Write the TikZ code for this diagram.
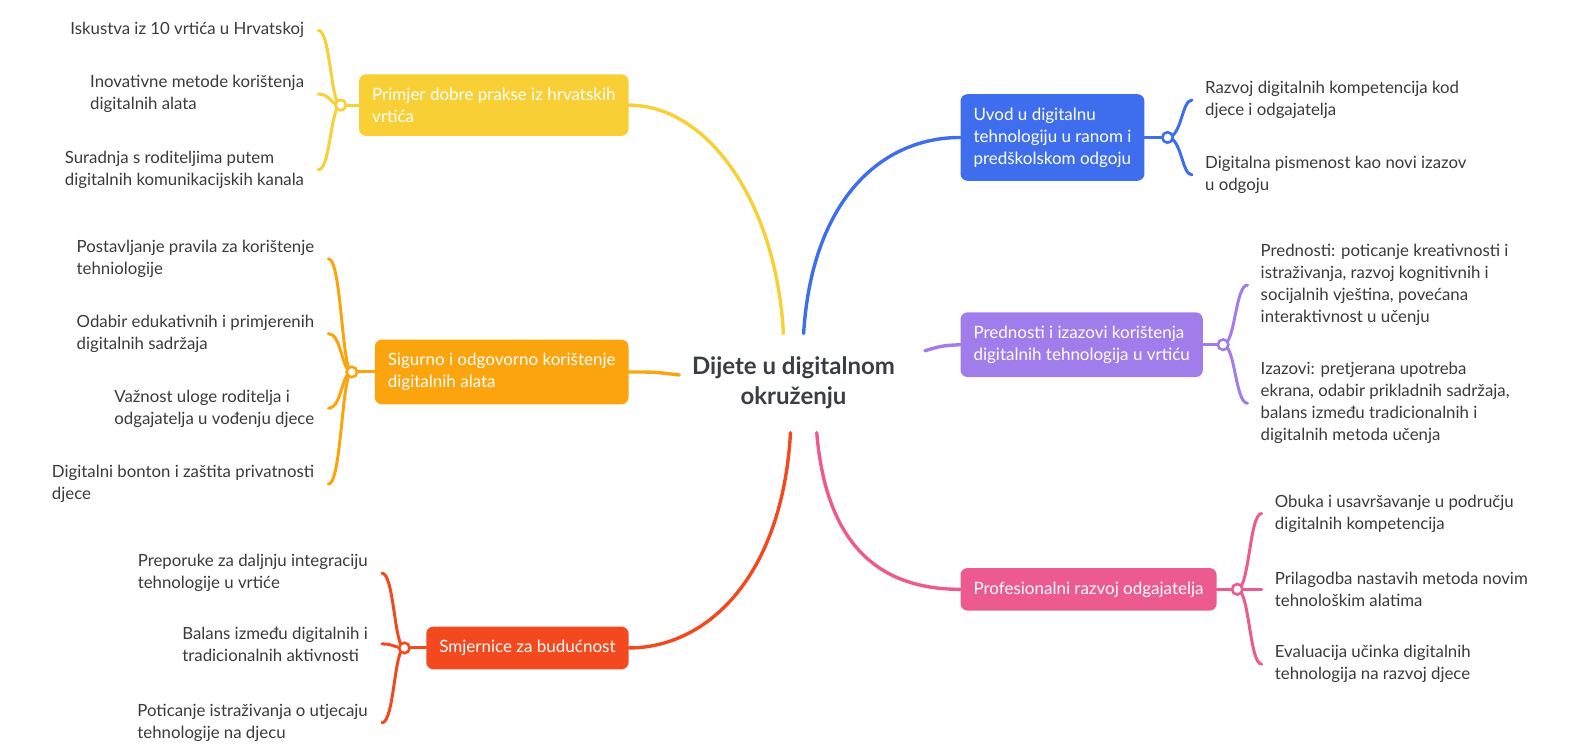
\documentclass[tikz,border=0pt]{standalone}
\usepackage{fontspec}
\setmainfont{Lato}
\usetikzlibrary{backgrounds}
\definecolor{cyel}{HTML}{F8D035}
\definecolor{cora}{HTML}{FBA40E}
\definecolor{cred}{HTML}{F4481E}
\definecolor{cblu}{HTML}{3E6EEE}
\definecolor{cpur}{HTML}{A17CEB}
\definecolor{cpnk}{HTML}{EC5A8F}
\definecolor{txt}{HTML}{3A3A3A}
\definecolor{roottxt}{HTML}{3A3D45}

\begin{document}
\begin{tikzpicture}[x=1.011pt,y=-1.011pt,
  box/.style={rounded corners=7pt, fill=#1, text=white, align=left, inner xsep=13pt, inner ysep=13.5pt, font=\fontsize{17}{22}\selectfont},
  leaf/.style={align=left, inner sep=0pt, text=txt, font=\fontsize{16.8}{22}\selectfont},
  hub/.style={circle, draw=#1, fill=white, line width=2.6pt, inner sep=0pt, minimum size=10.5pt},
  twig/.style={draw=#1, line width=3pt, line cap=round},
  limb/.style={draw=#1, line width=3.4pt, line cap=round}]
\useasboundingbox (0,0) rectangle (1568,738);

\node[text=roottxt, align=center, font=\fontsize{24}{30}\selectfont\bfseries] (root) at (785,379) {Dijete u digitalnom\\okruženju};

% branches
\node[box=cyel, anchor=east] (pri) at (622,104) {Primjer dobre prakse iz hrvatskih\\vrtića};
\node[box=cora, anchor=east] (sig) at (622,368) {Sigurno i odgovorno korištenje\\digitalnih alata};
\node[box=cred, anchor=east] (smj) at (622,641) {Smjernice za budućnost};
\node[box=cblu, anchor=west] (uvod) at (950,136) {Uvod u digitalnu\\tehnologiju u ranom i\\predškolskom odgoju};
\node[box=cpur, anchor=west] (pre) at (950,341) {Prednosti i izazovi korištenja\\digitalnih tehnologija u vrtiću};
\node[box=cpnk, anchor=west] (pro) at (950,583) {Profesionalni razvoj odgajatelja};

\node[hub=cyel] (hA) at (337,104) {};
\node[hub=cora] (hB) at (348,368) {};
\node[hub=cred] (hC) at (400,641) {};
\node[hub=cblu] (hD) at (1155,136) {};
\node[hub=cpur] (hE) at (1210,341) {};
\node[hub=cpnk] (hF) at (1224,583) {};

% leaves
\node[leaf, anchor=east] (pa) at (301,30) {Iskustva iz 10 vrtića u Hrvatskoj};
\node[leaf, anchor=east] (pb) at (301,93) {Inovativne metode korištenja\\digitalnih alata};
\node[leaf, anchor=east] (pc) at (301,168) {Suradnja s roditeljima putem\\digitalnih komunikacijskih kanala};

\node[leaf, anchor=east] (sa) at (311,256) {Postavljanje pravila za korištenje\\tehniologije};
\node[leaf, anchor=east] (sb) at (311,330) {Odabir edukativnih i primjerenih\\digitalnih sadržaja};
\node[leaf, anchor=east] (sc) at (311,404) {Važnost uloge roditelja i\\odgajatelja u vođenju djece};
\node[leaf, anchor=east] (sd) at (311,479) {Digitalni bonton i zaštita privatnosti\\djece};

\node[leaf, anchor=east] (ma) at (364,567) {Preporuke za daljnju integraciju\\tehnologije u vrtiće};
\node[leaf, anchor=east] (mb) at (364,637) {Balans između digitalnih i\\tradicionalnih aktivnosti};
\node[leaf, anchor=east] (mc) at (364,715) {Poticanje istraživanja o utjecaju\\tehnologije na djecu};

\node[leaf, anchor=west] (ua) at (1192,99) {Razvoj digitalnih kompetencija kod\\djece i odgajatelja};
\node[leaf, anchor=west] (ub) at (1192,173) {Digitalna pismenost kao novi izazov\\u odgoju};

\node[leaf, anchor=west] (ra) at (1247,282) {Prednosti: poticanje kreativnosti i\\istraživanja, razvoj kognitivnih i\\socijalnih vještina, povećana\\interaktivnost u učenju};
\node[leaf, anchor=west] (rb) at (1247,399) {Izazovi: pretjerana upotreba\\ekrana, odabir prikladnih sadržaja,\\balans između tradicionalnih i\\digitalnih metoda učenja};

\node[leaf, anchor=west] (fa) at (1261,508) {Obuka i usavršavanje u području\\digitalnih kompetencija};
\node[leaf, anchor=west] (fb) at (1261,583) {Prilagodba nastavih metoda novim\\tehnološkim alatima};
\node[leaf, anchor=west] (fc) at (1261,657) {Evaluacija učinka digitalnih\\tehnologija na razvoj djece};

\coordinate (sY) at (775,330);
\coordinate (sB) at (795,330);
\coordinate (sO) at (672,371);
\coordinate (sP) at (915,347);
\coordinate (sR) at (782,428);
\coordinate (sK) at (808,428);

\begin{scope}[on background layer]
\draw[limb=cyel] (sY) .. controls (768,200) and (700,104) .. (pri.east);
\draw[limb=cblu] (sB) .. controls (803,200) and (870,136) .. (uvod.west);
\draw[limb=cora] (sO) .. controls (648,368) .. (sig.east);
\draw[limb=cpur] (sP) .. controls (932,342) .. (pre.west);
\draw[limb=cred] (sR) .. controls (774,570) and (700,641) .. (smj.east);
\draw[limb=cpnk] (sK) .. controls (818,550) and (880,583) .. (pro.west);

\draw[twig=cyel] (pri.west) -- (hA);
\draw[twig=cora] (sig.west) -- (hB);
\draw[twig=cred] (smj.west) -- (hC);
\draw[twig=cblu] (uvod.east) -- (hD);
\draw[twig=cpur] (pre.east) -- (hE);
\draw[twig=cpnk] (pro.east) -- (hF);

\foreach \l in {pa,pb,pc}
  \draw[twig=cyel] (hA.center) .. controls (327,104) and (327,0 |- \l.east) .. ([xshift=14pt]\l.east);
\foreach \l in {sa,sb,sc,sd}
  \draw[twig=cora] (hB.center) .. controls (338,368) and (338,0 |- \l.east) .. ([xshift=14pt]\l.east);
\foreach \l in {ma,mb,mc}
  \draw[twig=cred] (hC.center) .. controls (390,641) and (390,0 |- \l.east) .. ([xshift=14pt]\l.east);
\foreach \l in {ua,ub}
  \draw[twig=cblu] (hD.center) .. controls (1169,136) and (1169,0 |- \l.west) .. ([xshift=-13pt]\l.west);
\foreach \l in {ra,rb}
  \draw[twig=cpur] (hE.center) .. controls (1222,341) and (1222,0 |- \l.west) .. ([xshift=-13pt]\l.west);
\foreach \l in {fa,fb,fc}
  \draw[twig=cpnk] (hF.center) .. controls (1236,583) and (1236,0 |- \l.west) .. ([xshift=-13pt]\l.west);
\end{scope}
\end{tikzpicture}
\end{document}
